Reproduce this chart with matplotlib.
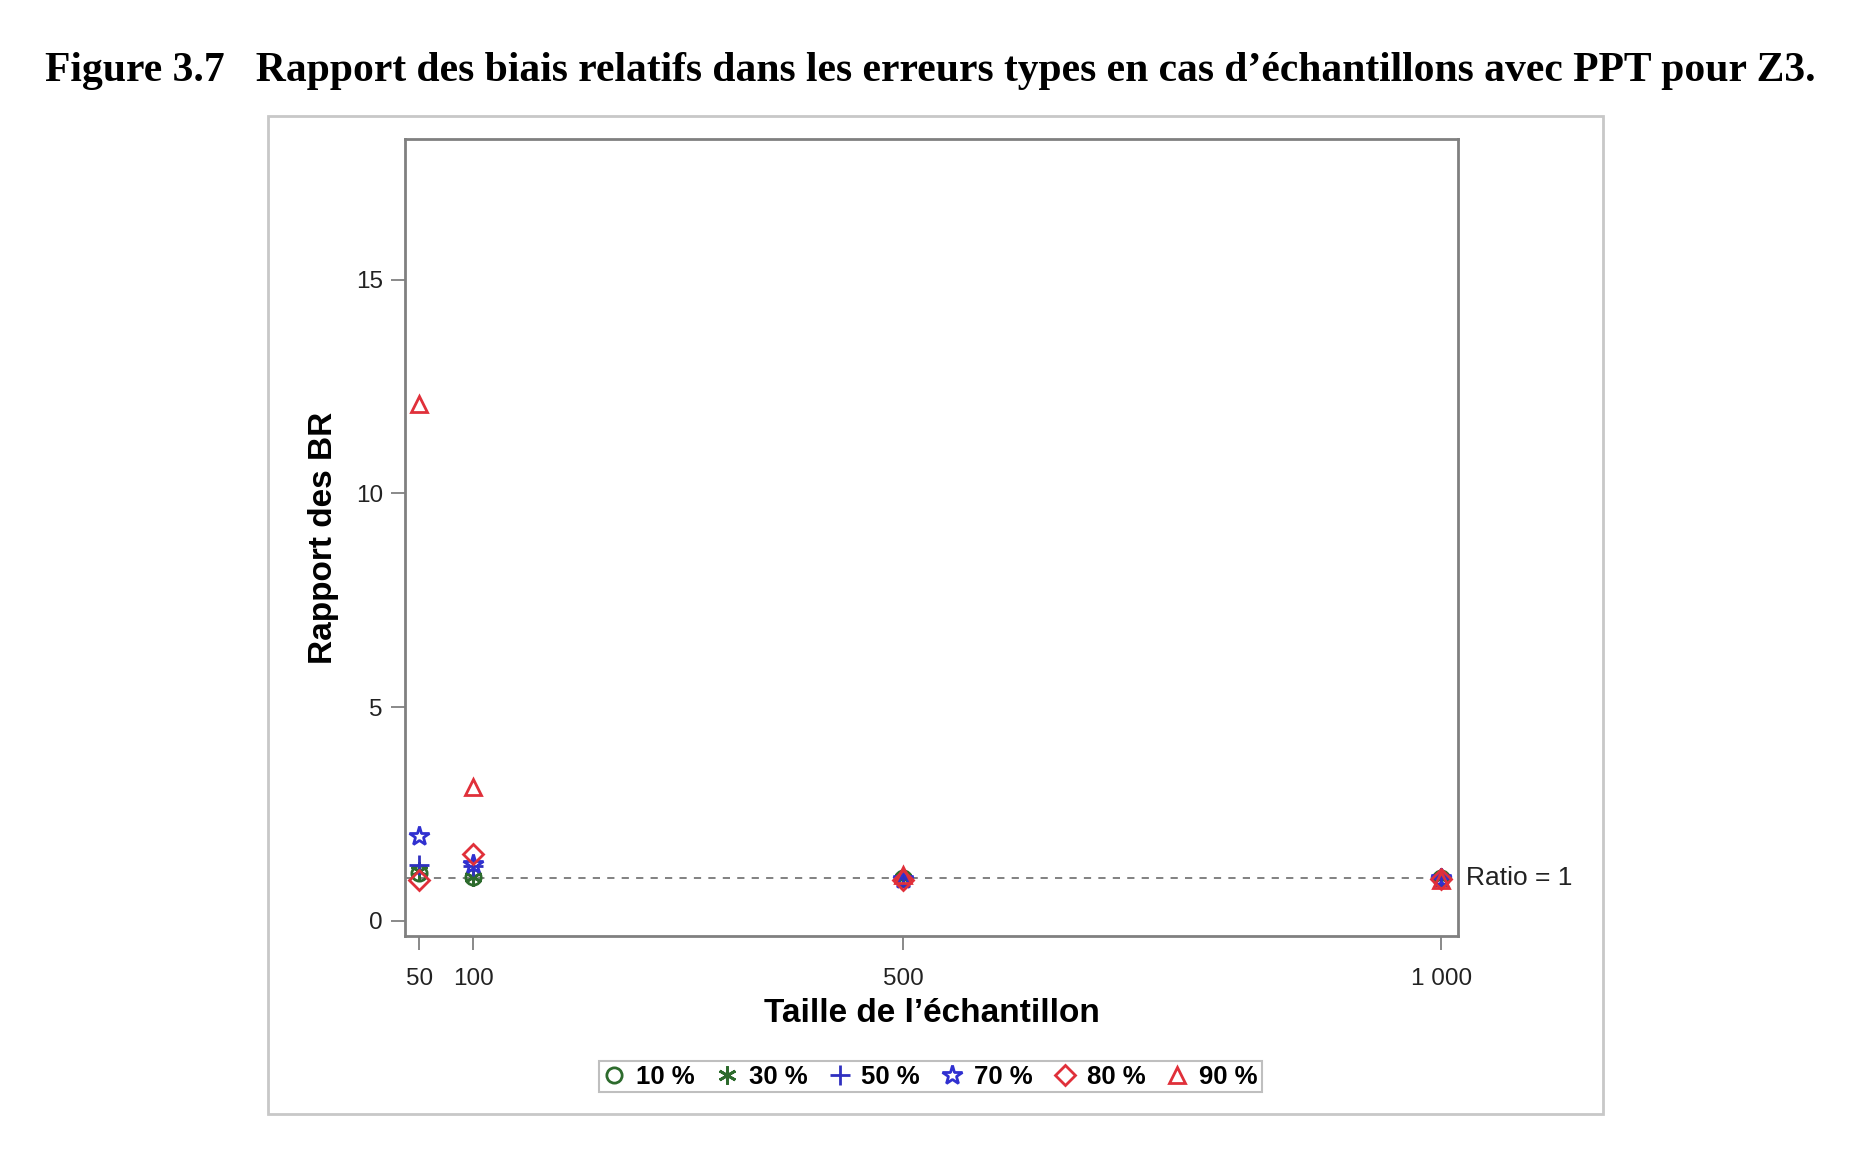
import matplotlib
matplotlib.use('Agg')
import matplotlib.pyplot as plt
from matplotlib.patches import Rectangle

plt.rcParams['font.family'] = ['Liberation Sans', 'DejaVu Sans']

# sample sizes and ratio of relative biases per proportion
sizes = [50, 100, 500, 1000]
labels = ['10 %', '30 %', '50 %', '70 %', '80 %', '90 %']
ratio_10 = [1.12, 1.02, 1.00, 1.00]
ratio_30 = [1.16, 1.03, 1.00, 1.00]
ratio_50 = [1.31, 1.28, 0.99, 1.00]
ratio_70 = [1.99, 1.32, 0.97, 1.00]
ratio_80 = [0.95, 1.57, 0.96, 0.98]
ratio_90 = [12.09, 3.14, 1.06, 0.96]

series = [ratio_10, ratio_30, ratio_50, ratio_70, ratio_80, ratio_90]
markers = ['o', (6, 2, 0), '+', '*', 'D', '^']
colors = ['#2d6b2d', '#2d6b2d', '#3030c0', '#3030d0', '#e0303a', '#e0303a']
msizes = [11, 13, 14, 15, 10, 12]

fig = plt.figure(figsize=(18.51, 11.56), dpi=100)

fig.text(0.5026, 0.9386,
         'Figure 3.7   Rapport des biais relatifs dans les erreurs types en cas d\u2019\u00e9chantillons avec PPT pour Z3.',
         ha='center', va='center', fontsize=30, fontweight='bold', family='Liberation Serif')

# outer frame around graph
fig.patches.append(Rectangle((0.1448, 0.0363), 0.7212, 0.8633, transform=fig.transFigure,
                             fill=False, edgecolor='#c8c8c8', linewidth=2))

ax = fig.add_axes([0.2188, 0.1903, 0.5689, 0.6895])

ax.axhline(1, color='#777777', linestyle=(0, (4, 4)), linewidth=1.3, zorder=1)

for vals, m, c, s, lab in zip(series, markers, colors, msizes, labels):
    ax.plot(sizes, vals, linestyle='none', marker=m, markersize=s, markerfacecolor='none',
            markeredgecolor=c, markeredgewidth=2, color=c, label=lab, zorder=3)

ax.set_xlim(36.8, 1015.4)
ax.set_ylim(-0.36, 18.3)
ax.set_xticks([50, 100, 500, 1000])
ax.set_xticklabels(['50', '100', '500', '1 000'])
ax.set_yticks([0, 5, 10, 15])

for sp in ax.spines.values():
    sp.set_color('#808080')
    sp.set_linewidth(2)
ax.tick_params(colors='#808080', labelcolor='#222222', labelsize=17.5, length=10, width=1.3)
ax.tick_params(axis='x', pad=13)
ax.tick_params(axis='y', pad=6)

ax.set_xlabel('Taille de l\u2019\u00e9chantillon', fontsize=24, fontweight='bold', labelpad=6)
ax.set_ylabel('Rapport des BR', fontsize=24, fontweight='bold', labelpad=12)

ax.text(1.008, 1, 'Ratio = 1', transform=ax.get_yaxis_transform(), ha='left', va='center',
        fontsize=19, color='#222222', clip_on=False)

leg = fig.legend(loc='center', bbox_to_anchor=(0.5026, 0.0687), ncol=6, frameon=True,
                 fancybox=False, edgecolor='#b0b0b0', handletextpad=0.4, columnspacing=0.8,
                 borderpad=0.15, handlelength=0.9, prop={'weight': 'bold', 'size': 18.5})
leg.get_frame().set_linewidth(1.5)

fig.savefig('out.png', dpi=100)
